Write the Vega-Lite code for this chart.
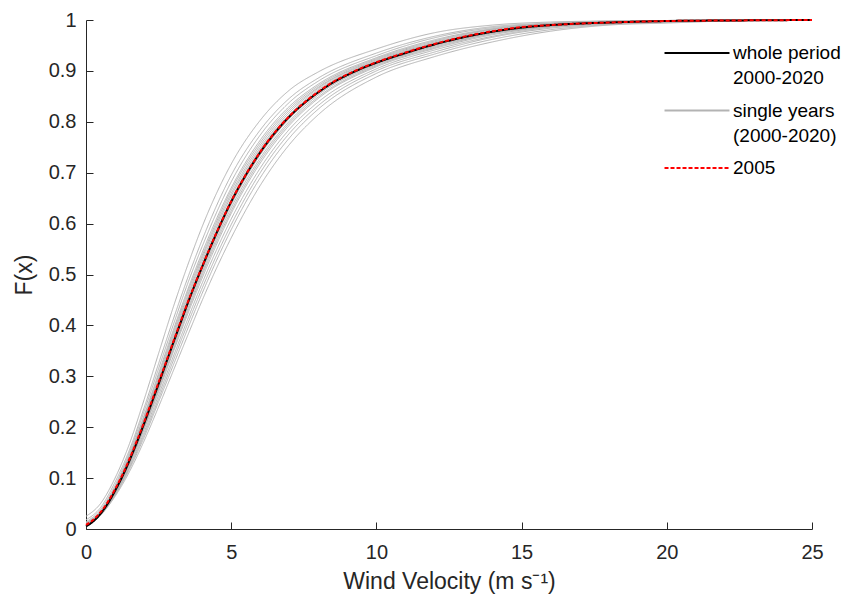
{
"$schema": "https://vega.github.io/schema/vega-lite/v6.json",
"width": 726, "height": 509,
"autosize": {"type": "none"},
"padding": {"left": 86, "top": 20, "right": 40, "bottom": 73},
"background": "white",
"config": {"view": {"stroke": null}, "font": "Liberation Sans"},
"datasets": {
"grey": [
{"c":"g01","s":"S","x":0,"F":0.025},{"c":"g01","s":"S","x":0.5,"F":0.05},{"c":"g01","s":"S","x":1,"F":0.1},{"c":"g01","s":"S","x":1.5,"F":0.168},{"c":"g01","s":"S","x":2,"F":0.254},{"c":"g01","s":"S","x":2.5,"F":0.345},{"c":"g01","s":"S","x":3,"F":0.435},{"c":"g01","s":"S","x":3.5,"F":0.518},{"c":"g01","s":"S","x":4,"F":0.594},{"c":"g01","s":"S","x":5,"F":0.717},{"c":"g01","s":"S","x":6,"F":0.803},{"c":"g01","s":"S","x":7,"F":0.862},{"c":"g01","s":"S","x":8,"F":0.898},{"c":"g01","s":"S","x":10,"F":0.943},{"c":"g01","s":"S","x":12,"F":0.975},{"c":"g01","s":"S","x":14,"F":0.99},{"c":"g01","s":"S","x":16,"F":0.996},{"c":"g01","s":"S","x":18,"F":0.998},{"c":"g01","s":"S","x":20,"F":0.999},{"c":"g01","s":"S","x":22,"F":1},{"c":"g01","s":"S","x":25,"F":1},
{"c":"g02","s":"S","x":0,"F":0.018},{"c":"g02","s":"S","x":0.5,"F":0.042},{"c":"g02","s":"S","x":1,"F":0.092},{"c":"g02","s":"S","x":1.5,"F":0.156},{"c":"g02","s":"S","x":2,"F":0.238},{"c":"g02","s":"S","x":2.5,"F":0.325},{"c":"g02","s":"S","x":3,"F":0.411},{"c":"g02","s":"S","x":3.5,"F":0.493},{"c":"g02","s":"S","x":4,"F":0.568},{"c":"g02","s":"S","x":5,"F":0.695},{"c":"g02","s":"S","x":6,"F":0.784},{"c":"g02","s":"S","x":7,"F":0.846},{"c":"g02","s":"S","x":8,"F":0.886},{"c":"g02","s":"S","x":10,"F":0.935},{"c":"g02","s":"S","x":12,"F":0.968},{"c":"g02","s":"S","x":14,"F":0.987},{"c":"g02","s":"S","x":16,"F":0.994},{"c":"g02","s":"S","x":18,"F":0.998},{"c":"g02","s":"S","x":20,"F":0.999},{"c":"g02","s":"S","x":22,"F":1},{"c":"g02","s":"S","x":25,"F":1},
{"c":"g03","s":"S","x":0,"F":0.014},{"c":"g03","s":"S","x":0.5,"F":0.038},{"c":"g03","s":"S","x":1,"F":0.086},{"c":"g03","s":"S","x":1.5,"F":0.151},{"c":"g03","s":"S","x":2,"F":0.231},{"c":"g03","s":"S","x":2.5,"F":0.315},{"c":"g03","s":"S","x":3,"F":0.4},{"c":"g03","s":"S","x":3.5,"F":0.482},{"c":"g03","s":"S","x":4,"F":0.555},{"c":"g03","s":"S","x":5,"F":0.682},{"c":"g03","s":"S","x":6,"F":0.774},{"c":"g03","s":"S","x":7,"F":0.838},{"c":"g03","s":"S","x":8,"F":0.88},{"c":"g03","s":"S","x":10,"F":0.93},{"c":"g03","s":"S","x":12,"F":0.965},{"c":"g03","s":"S","x":14,"F":0.985},{"c":"g03","s":"S","x":16,"F":0.993},{"c":"g03","s":"S","x":18,"F":0.997},{"c":"g03","s":"S","x":20,"F":0.999},{"c":"g03","s":"S","x":22,"F":1},{"c":"g03","s":"S","x":25,"F":1},
{"c":"g04","s":"S","x":0,"F":0.012},{"c":"g04","s":"S","x":0.5,"F":0.035},{"c":"g04","s":"S","x":1,"F":0.082},{"c":"g04","s":"S","x":1.5,"F":0.146},{"c":"g04","s":"S","x":2,"F":0.223},{"c":"g04","s":"S","x":2.5,"F":0.306},{"c":"g04","s":"S","x":3,"F":0.39},{"c":"g04","s":"S","x":3.5,"F":0.47},{"c":"g04","s":"S","x":4,"F":0.543},{"c":"g04","s":"S","x":5,"F":0.67},{"c":"g04","s":"S","x":6,"F":0.764},{"c":"g04","s":"S","x":7,"F":0.83},{"c":"g04","s":"S","x":8,"F":0.874},{"c":"g04","s":"S","x":10,"F":0.926},{"c":"g04","s":"S","x":12,"F":0.961},{"c":"g04","s":"S","x":14,"F":0.983},{"c":"g04","s":"S","x":16,"F":0.993},{"c":"g04","s":"S","x":18,"F":0.996},{"c":"g04","s":"S","x":20,"F":0.999},{"c":"g04","s":"S","x":22,"F":1},{"c":"g04","s":"S","x":25,"F":1},
{"c":"g05","s":"S","x":0,"F":0.01},{"c":"g05","s":"S","x":0.5,"F":0.033},{"c":"g05","s":"S","x":1,"F":0.08},{"c":"g05","s":"S","x":1.5,"F":0.144},{"c":"g05","s":"S","x":2,"F":0.22},{"c":"g05","s":"S","x":2.5,"F":0.302},{"c":"g05","s":"S","x":3,"F":0.385},{"c":"g05","s":"S","x":3.5,"F":0.465},{"c":"g05","s":"S","x":4,"F":0.537},{"c":"g05","s":"S","x":5,"F":0.665},{"c":"g05","s":"S","x":6,"F":0.759},{"c":"g05","s":"S","x":7,"F":0.826},{"c":"g05","s":"S","x":8,"F":0.871},{"c":"g05","s":"S","x":10,"F":0.924},{"c":"g05","s":"S","x":12,"F":0.959},{"c":"g05","s":"S","x":14,"F":0.982},{"c":"g05","s":"S","x":16,"F":0.992},{"c":"g05","s":"S","x":18,"F":0.996},{"c":"g05","s":"S","x":20,"F":0.998},{"c":"g05","s":"S","x":22,"F":0.999},{"c":"g05","s":"S","x":25,"F":1},
{"c":"g06","s":"S","x":0,"F":0.009},{"c":"g06","s":"S","x":0.5,"F":0.032},{"c":"g06","s":"S","x":1,"F":0.079},{"c":"g06","s":"S","x":1.5,"F":0.141},{"c":"g06","s":"S","x":2,"F":0.217},{"c":"g06","s":"S","x":2.5,"F":0.297},{"c":"g06","s":"S","x":3,"F":0.38},{"c":"g06","s":"S","x":3.5,"F":0.459},{"c":"g06","s":"S","x":4,"F":0.532},{"c":"g06","s":"S","x":5,"F":0.659},{"c":"g06","s":"S","x":6,"F":0.754},{"c":"g06","s":"S","x":7,"F":0.822},{"c":"g06","s":"S","x":8,"F":0.868},{"c":"g06","s":"S","x":10,"F":0.922},{"c":"g06","s":"S","x":12,"F":0.957},{"c":"g06","s":"S","x":14,"F":0.981},{"c":"g06","s":"S","x":16,"F":0.992},{"c":"g06","s":"S","x":18,"F":0.996},{"c":"g06","s":"S","x":20,"F":0.998},{"c":"g06","s":"S","x":22,"F":0.999},{"c":"g06","s":"S","x":25,"F":1},
{"c":"g07","s":"S","x":0,"F":0.012},{"c":"g07","s":"S","x":0.5,"F":0.033},{"c":"g07","s":"S","x":1,"F":0.078},{"c":"g07","s":"S","x":1.5,"F":0.139},{"c":"g07","s":"S","x":2,"F":0.213},{"c":"g07","s":"S","x":2.5,"F":0.293},{"c":"g07","s":"S","x":3,"F":0.375},{"c":"g07","s":"S","x":3.5,"F":0.454},{"c":"g07","s":"S","x":4,"F":0.526},{"c":"g07","s":"S","x":5,"F":0.654},{"c":"g07","s":"S","x":6,"F":0.749},{"c":"g07","s":"S","x":7,"F":0.818},{"c":"g07","s":"S","x":8,"F":0.866},{"c":"g07","s":"S","x":10,"F":0.92},{"c":"g07","s":"S","x":12,"F":0.955},{"c":"g07","s":"S","x":14,"F":0.979},{"c":"g07","s":"S","x":16,"F":0.991},{"c":"g07","s":"S","x":18,"F":0.996},{"c":"g07","s":"S","x":20,"F":0.998},{"c":"g07","s":"S","x":22,"F":0.999},{"c":"g07","s":"S","x":25,"F":1},
{"c":"g08","s":"S","x":0,"F":0.008},{"c":"g08","s":"S","x":0.5,"F":0.031},{"c":"g08","s":"S","x":1,"F":0.076},{"c":"g08","s":"S","x":1.5,"F":0.137},{"c":"g08","s":"S","x":2,"F":0.21},{"c":"g08","s":"S","x":2.5,"F":0.289},{"c":"g08","s":"S","x":3,"F":0.37},{"c":"g08","s":"S","x":3.5,"F":0.448},{"c":"g08","s":"S","x":4,"F":0.52},{"c":"g08","s":"S","x":5,"F":0.648},{"c":"g08","s":"S","x":6,"F":0.745},{"c":"g08","s":"S","x":7,"F":0.814},{"c":"g08","s":"S","x":8,"F":0.863},{"c":"g08","s":"S","x":10,"F":0.918},{"c":"g08","s":"S","x":12,"F":0.954},{"c":"g08","s":"S","x":14,"F":0.978},{"c":"g08","s":"S","x":16,"F":0.991},{"c":"g08","s":"S","x":18,"F":0.995},{"c":"g08","s":"S","x":20,"F":0.998},{"c":"g08","s":"S","x":22,"F":0.999},{"c":"g08","s":"S","x":25,"F":1},
{"c":"g09","s":"S","x":0,"F":0.007},{"c":"g09","s":"S","x":0.5,"F":0.03},{"c":"g09","s":"S","x":1,"F":0.074},{"c":"g09","s":"S","x":1.5,"F":0.133},{"c":"g09","s":"S","x":2,"F":0.204},{"c":"g09","s":"S","x":2.5,"F":0.281},{"c":"g09","s":"S","x":3,"F":0.36},{"c":"g09","s":"S","x":3.5,"F":0.438},{"c":"g09","s":"S","x":4,"F":0.509},{"c":"g09","s":"S","x":5,"F":0.637},{"c":"g09","s":"S","x":6,"F":0.735},{"c":"g09","s":"S","x":7,"F":0.806},{"c":"g09","s":"S","x":8,"F":0.856},{"c":"g09","s":"S","x":10,"F":0.914},{"c":"g09","s":"S","x":12,"F":0.95},{"c":"g09","s":"S","x":14,"F":0.976},{"c":"g09","s":"S","x":16,"F":0.989},{"c":"g09","s":"S","x":18,"F":0.995},{"c":"g09","s":"S","x":20,"F":0.998},{"c":"g09","s":"S","x":22,"F":0.999},{"c":"g09","s":"S","x":25,"F":1},
{"c":"g10","s":"S","x":0,"F":0.01},{"c":"g10","s":"S","x":0.5,"F":0.03},{"c":"g10","s":"S","x":1,"F":0.073},{"c":"g10","s":"S","x":1.5,"F":0.131},{"c":"g10","s":"S","x":2,"F":0.201},{"c":"g10","s":"S","x":2.5,"F":0.277},{"c":"g10","s":"S","x":3,"F":0.356},{"c":"g10","s":"S","x":3.5,"F":0.432},{"c":"g10","s":"S","x":4,"F":0.504},{"c":"g10","s":"S","x":5,"F":0.631},{"c":"g10","s":"S","x":6,"F":0.729},{"c":"g10","s":"S","x":7,"F":0.801},{"c":"g10","s":"S","x":8,"F":0.853},{"c":"g10","s":"S","x":10,"F":0.912},{"c":"g10","s":"S","x":12,"F":0.948},{"c":"g10","s":"S","x":14,"F":0.974},{"c":"g10","s":"S","x":16,"F":0.988},{"c":"g10","s":"S","x":18,"F":0.994},{"c":"g10","s":"S","x":20,"F":0.997},{"c":"g10","s":"S","x":22,"F":0.999},{"c":"g10","s":"S","x":25,"F":1},
{"c":"g11","s":"S","x":0,"F":0.006},{"c":"g11","s":"S","x":0.5,"F":0.029},{"c":"g11","s":"S","x":1,"F":0.072},{"c":"g11","s":"S","x":1.5,"F":0.129},{"c":"g11","s":"S","x":2,"F":0.198},{"c":"g11","s":"S","x":2.5,"F":0.274},{"c":"g11","s":"S","x":3,"F":0.351},{"c":"g11","s":"S","x":3.5,"F":0.427},{"c":"g11","s":"S","x":4,"F":0.499},{"c":"g11","s":"S","x":5,"F":0.625},{"c":"g11","s":"S","x":6,"F":0.724},{"c":"g11","s":"S","x":7,"F":0.797},{"c":"g11","s":"S","x":8,"F":0.849},{"c":"g11","s":"S","x":10,"F":0.91},{"c":"g11","s":"S","x":12,"F":0.946},{"c":"g11","s":"S","x":14,"F":0.973},{"c":"g11","s":"S","x":16,"F":0.988},{"c":"g11","s":"S","x":18,"F":0.994},{"c":"g11","s":"S","x":20,"F":0.997},{"c":"g11","s":"S","x":22,"F":0.999},{"c":"g11","s":"S","x":25,"F":1},
{"c":"g12","s":"S","x":0,"F":0.008},{"c":"g12","s":"S","x":0.5,"F":0.029},{"c":"g12","s":"S","x":1,"F":0.071},{"c":"g12","s":"S","x":1.5,"F":0.128},{"c":"g12","s":"S","x":2,"F":0.196},{"c":"g12","s":"S","x":2.5,"F":0.27},{"c":"g12","s":"S","x":3,"F":0.347},{"c":"g12","s":"S","x":3.5,"F":0.422},{"c":"g12","s":"S","x":4,"F":0.493},{"c":"g12","s":"S","x":5,"F":0.62},{"c":"g12","s":"S","x":6,"F":0.719},{"c":"g12","s":"S","x":7,"F":0.793},{"c":"g12","s":"S","x":8,"F":0.846},{"c":"g12","s":"S","x":10,"F":0.908},{"c":"g12","s":"S","x":12,"F":0.944},{"c":"g12","s":"S","x":14,"F":0.971},{"c":"g12","s":"S","x":16,"F":0.987},{"c":"g12","s":"S","x":18,"F":0.994},{"c":"g12","s":"S","x":20,"F":0.997},{"c":"g12","s":"S","x":22,"F":0.999},{"c":"g12","s":"S","x":25,"F":1},
{"c":"g13","s":"S","x":0,"F":0.005},{"c":"g13","s":"S","x":0.5,"F":0.028},{"c":"g13","s":"S","x":1,"F":0.069},{"c":"g13","s":"S","x":1.5,"F":0.124},{"c":"g13","s":"S","x":2,"F":0.19},{"c":"g13","s":"S","x":2.5,"F":0.263},{"c":"g13","s":"S","x":3,"F":0.338},{"c":"g13","s":"S","x":3.5,"F":0.412},{"c":"g13","s":"S","x":4,"F":0.483},{"c":"g13","s":"S","x":5,"F":0.609},{"c":"g13","s":"S","x":6,"F":0.709},{"c":"g13","s":"S","x":7,"F":0.785},{"c":"g13","s":"S","x":8,"F":0.839},{"c":"g13","s":"S","x":10,"F":0.904},{"c":"g13","s":"S","x":12,"F":0.941},{"c":"g13","s":"S","x":14,"F":0.968},{"c":"g13","s":"S","x":16,"F":0.986},{"c":"g13","s":"S","x":18,"F":0.993},{"c":"g13","s":"S","x":20,"F":0.996},{"c":"g13","s":"S","x":22,"F":0.998},{"c":"g13","s":"S","x":25,"F":1},
{"c":"g14","s":"S","x":0,"F":0.006},{"c":"g14","s":"S","x":0.5,"F":0.028},{"c":"g14","s":"S","x":1,"F":0.068},{"c":"g14","s":"S","x":1.5,"F":0.121},{"c":"g14","s":"S","x":2,"F":0.185},{"c":"g14","s":"S","x":2.5,"F":0.256},{"c":"g14","s":"S","x":3,"F":0.33},{"c":"g14","s":"S","x":3.5,"F":0.403},{"c":"g14","s":"S","x":4,"F":0.473},{"c":"g14","s":"S","x":5,"F":0.598},{"c":"g14","s":"S","x":6,"F":0.7},{"c":"g14","s":"S","x":7,"F":0.777},{"c":"g14","s":"S","x":8,"F":0.832},{"c":"g14","s":"S","x":10,"F":0.9},{"c":"g14","s":"S","x":12,"F":0.937},{"c":"g14","s":"S","x":14,"F":0.966},{"c":"g14","s":"S","x":16,"F":0.984},{"c":"g14","s":"S","x":18,"F":0.992},{"c":"g14","s":"S","x":20,"F":0.996},{"c":"g14","s":"S","x":22,"F":0.998},{"c":"g14","s":"S","x":25,"F":1},
{"c":"g15","s":"S","x":0,"F":0.004},{"c":"g15","s":"S","x":0.5,"F":0.027},{"c":"g15","s":"S","x":1,"F":0.066},{"c":"g15","s":"S","x":1.5,"F":0.118},{"c":"g15","s":"S","x":2,"F":0.18},{"c":"g15","s":"S","x":2.5,"F":0.25},{"c":"g15","s":"S","x":3,"F":0.321},{"c":"g15","s":"S","x":3.5,"F":0.393},{"c":"g15","s":"S","x":4,"F":0.463},{"c":"g15","s":"S","x":5,"F":0.588},{"c":"g15","s":"S","x":6,"F":0.69},{"c":"g15","s":"S","x":7,"F":0.768},{"c":"g15","s":"S","x":8,"F":0.825},{"c":"g15","s":"S","x":10,"F":0.895},{"c":"g15","s":"S","x":12,"F":0.933},{"c":"g15","s":"S","x":14,"F":0.962},{"c":"g15","s":"S","x":16,"F":0.981},{"c":"g15","s":"S","x":18,"F":0.991},{"c":"g15","s":"S","x":20,"F":0.995},{"c":"g15","s":"S","x":22,"F":0.998},{"c":"g15","s":"S","x":25,"F":1},
{"c":"g16","s":"S","x":0,"F":0.005},{"c":"g16","s":"S","x":0.5,"F":0.027},{"c":"g16","s":"S","x":1,"F":0.064},{"c":"g16","s":"S","x":1.5,"F":0.113},{"c":"g16","s":"S","x":2,"F":0.173},{"c":"g16","s":"S","x":2.5,"F":0.24},{"c":"g16","s":"S","x":3,"F":0.31},{"c":"g16","s":"S","x":3.5,"F":0.38},{"c":"g16","s":"S","x":4,"F":0.449},{"c":"g16","s":"S","x":5,"F":0.572},{"c":"g16","s":"S","x":6,"F":0.675},{"c":"g16","s":"S","x":7,"F":0.755},{"c":"g16","s":"S","x":8,"F":0.814},{"c":"g16","s":"S","x":10,"F":0.888},{"c":"g16","s":"S","x":12,"F":0.928},{"c":"g16","s":"S","x":14,"F":0.957},{"c":"g16","s":"S","x":16,"F":0.978},{"c":"g16","s":"S","x":18,"F":0.99},{"c":"g16","s":"S","x":20,"F":0.994},{"c":"g16","s":"S","x":22,"F":0.998},{"c":"g16","s":"S","x":25,"F":1}
],
"black": [
{"c":"b","s":"W","x":0,"F":0.005},{"c":"b","s":"W","x":0.25,"F":0.015},{"c":"b","s":"W","x":0.5,"F":0.03},{"c":"b","s":"W","x":0.75,"F":0.05},{"c":"b","s":"W","x":1,"F":0.075},{"c":"b","s":"W","x":1.25,"F":0.103},{"c":"b","s":"W","x":1.5,"F":0.135},{"c":"b","s":"W","x":1.75,"F":0.17},{"c":"b","s":"W","x":2,"F":0.207},{"c":"b","s":"W","x":2.25,"F":0.246},{"c":"b","s":"W","x":2.5,"F":0.285},{"c":"b","s":"W","x":2.75,"F":0.325},{"c":"b","s":"W","x":3,"F":0.365},{"c":"b","s":"W","x":3.25,"F":0.404},{"c":"b","s":"W","x":3.5,"F":0.443},{"c":"b","s":"W","x":3.75,"F":0.48},{"c":"b","s":"W","x":4,"F":0.515},{"c":"b","s":"W","x":4.5,"F":0.582},{"c":"b","s":"W","x":5,"F":0.643},{"c":"b","s":"W","x":5.5,"F":0.695},{"c":"b","s":"W","x":6,"F":0.74},{"c":"b","s":"W","x":6.5,"F":0.778},{"c":"b","s":"W","x":7,"F":0.81},{"c":"b","s":"W","x":7.5,"F":0.836},{"c":"b","s":"W","x":8,"F":0.858},{"c":"b","s":"W","x":8.5,"F":0.877},{"c":"b","s":"W","x":9,"F":0.892},{"c":"b","s":"W","x":9.5,"F":0.905},{"c":"b","s":"W","x":10,"F":0.916},{"c":"b","s":"W","x":11,"F":0.935},{"c":"b","s":"W","x":12,"F":0.952},{"c":"b","s":"W","x":13,"F":0.966},{"c":"b","s":"W","x":14,"F":0.977},{"c":"b","s":"W","x":15,"F":0.985},{"c":"b","s":"W","x":16,"F":0.99},{"c":"b","s":"W","x":17,"F":0.993},{"c":"b","s":"W","x":18,"F":0.995},{"c":"b","s":"W","x":20,"F":0.998},{"c":"b","s":"W","x":22,"F":0.999},{"c":"b","s":"W","x":25,"F":1}
],
"red": [
{"c":"r","s":"Y","x":0,"F":0.008},{"c":"r","s":"Y","x":0.25,"F":0.018},{"c":"r","s":"Y","x":0.5,"F":0.033},{"c":"r","s":"Y","x":0.75,"F":0.053},{"c":"r","s":"Y","x":1,"F":0.078},{"c":"r","s":"Y","x":1.25,"F":0.106},{"c":"r","s":"Y","x":1.5,"F":0.138},{"c":"r","s":"Y","x":1.75,"F":0.173},{"c":"r","s":"Y","x":2,"F":0.21},{"c":"r","s":"Y","x":2.25,"F":0.249},{"c":"r","s":"Y","x":2.5,"F":0.288},{"c":"r","s":"Y","x":2.75,"F":0.327},{"c":"r","s":"Y","x":3,"F":0.367},{"c":"r","s":"Y","x":3.25,"F":0.406},{"c":"r","s":"Y","x":3.5,"F":0.445},{"c":"r","s":"Y","x":3.75,"F":0.481},{"c":"r","s":"Y","x":4,"F":0.516},{"c":"r","s":"Y","x":4.5,"F":0.583},{"c":"r","s":"Y","x":5,"F":0.644},{"c":"r","s":"Y","x":5.5,"F":0.696},{"c":"r","s":"Y","x":6,"F":0.741},{"c":"r","s":"Y","x":6.5,"F":0.779},{"c":"r","s":"Y","x":7,"F":0.811},{"c":"r","s":"Y","x":7.5,"F":0.837},{"c":"r","s":"Y","x":8,"F":0.859},{"c":"r","s":"Y","x":8.5,"F":0.878},{"c":"r","s":"Y","x":9,"F":0.893},{"c":"r","s":"Y","x":9.5,"F":0.906},{"c":"r","s":"Y","x":10,"F":0.917},{"c":"r","s":"Y","x":11,"F":0.936},{"c":"r","s":"Y","x":12,"F":0.953},{"c":"r","s":"Y","x":13,"F":0.967},{"c":"r","s":"Y","x":14,"F":0.978},{"c":"r","s":"Y","x":15,"F":0.986},{"c":"r","s":"Y","x":16,"F":0.99},{"c":"r","s":"Y","x":17,"F":0.993},{"c":"r","s":"Y","x":18,"F":0.995},{"c":"r","s":"Y","x":20,"F":0.998},{"c":"r","s":"Y","x":22,"F":0.999},{"c":"r","s":"Y","x":25,"F":1}
]
},
"encoding": {
  "x": {"field": "x", "type": "quantitative",
    "scale": {"domain": [0, 25], "nice": false, "zero": false},
    "axis": {"values": [0,5,10,15,20,25], "title": "Wind Velocity (m s⁻¹)", "grid": false,
      "tickSize": -7, "tickColor": "#262626", "domainColor": "#262626", "domainWidth": 1, "tickWidth": 1,
      "labelFont": "Liberation Sans", "labelFontSize": 20, "labelColor": "#262626", "labelPadding": 20,
      "labelFlush": false, "labelOverlap": false,
      "titleFont": "Liberation Sans", "titleFontSize": 23, "titleFontWeight": "normal", "titleColor": "#262626", "titlePadding": 8}},
  "y": {"field": "F", "type": "quantitative",
    "scale": {"domain": [0, 1], "nice": false, "zero": false},
    "axis": {"values": [0,0.1,0.2,0.3,0.4,0.5,0.6,0.7,0.8,0.9,1], "format": ".1~f", "title": "F(x)", "grid": false,
      "tickSize": -7, "tickColor": "#262626", "domainColor": "#262626", "domainWidth": 1, "tickWidth": 1,
      "labelFont": "Liberation Sans", "labelFontSize": 20, "labelColor": "#262626", "labelPadding": 17,
      "labelFlush": false, "labelOverlap": false,
      "titleFont": "Liberation Sans", "titleFontSize": 23, "titleFontWeight": "normal", "titleColor": "#262626", "titlePadding": 12}},
  "color": {"field": "s", "type": "nominal",
    "scale": {"domain": ["W", "S", "Y"], "range": ["#000000", "#b3b3b3", "#ff0000"]},
    "legend": {"title": null, "orient": "none", "legendX": 599, "legendY": 21, "padding": 0,
      "symbolType": "M-3,0H3", "symbolSize": 469, "symbolStrokeWidth": 1.8,
      "labelFont": "Liberation Sans", "labelFontSize": 19, "labelColor": "#000000", "labelOffset": 24, "labelLimit": 0,
      "rowPadding": 10.5,
      "labelExpr": "datum.label == 'W' ? ['whole period', '2000-2020'] : datum.label == 'S' ? ['single years', '(2000-2020)'] : '2005'",
      "encode": {"labels": {"update": {"lineHeight": {"value": 25}}}}}},
  "strokeDash": {"field": "s", "type": "nominal",
    "scale": {"domain": ["W", "S", "Y"], "range": [[1, 0], [1, 0], [4, 2]]},
    "legend": {"title": null, "orient": "none", "legendX": 599, "legendY": 21, "padding": 0,
      "symbolType": "M-3,0H3", "symbolSize": 469, "symbolStrokeWidth": 1.8,
      "labelFont": "Liberation Sans", "labelFontSize": 19, "labelColor": "#000000", "labelOffset": 24, "labelLimit": 0,
      "rowPadding": 10.5,
      "labelExpr": "datum.label == 'W' ? ['whole period', '2000-2020'] : datum.label == 'S' ? ['single years', '(2000-2020)'] : '2005'",
      "encode": {"labels": {"update": {"lineHeight": {"value": 25}}}}}},
  "detail": {"field": "c", "type": "nominal"}
},
"layer": [
  {"data": {"name": "grey"}, "mark": {"type": "line", "strokeWidth": 1, "interpolate": "monotone"}},
  {"data": {"name": "black"}, "mark": {"type": "line", "strokeWidth": 2, "interpolate": "monotone"}},
  {"data": {"name": "red"}, "mark": {"type": "line", "strokeWidth": 2, "interpolate": "monotone"}}
]
}
